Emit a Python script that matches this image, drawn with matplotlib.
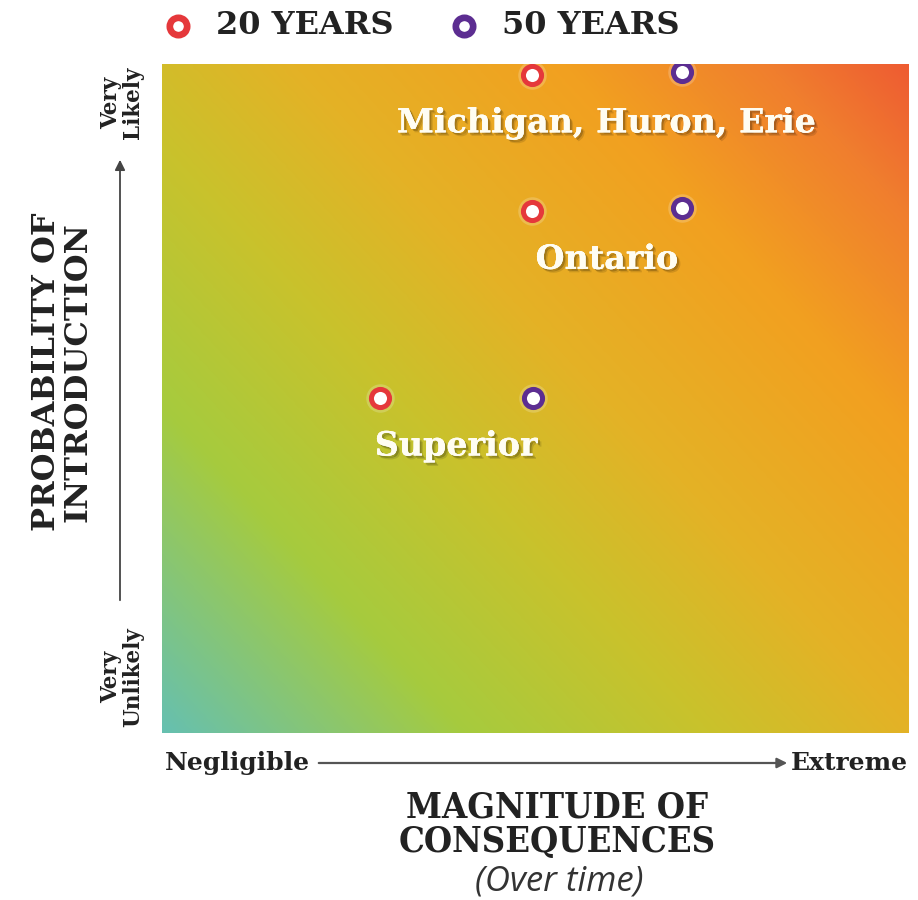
import numpy as np
import matplotlib
matplotlib.use('Agg')
import matplotlib.pyplot as plt
import matplotlib.patheffects as pe
from matplotlib.colors import LinearSegmentedColormap
from matplotlib.lines import Line2D

# lakes and their risk scores (0-10 scale) at 20 and 50 years
lakes = ['Michigan, Huron, Erie', 'Ontario', 'Superior']
consequence_20 = [4.96, 4.96, 2.92]
probability_20 = [9.84, 7.80, 5.01]
consequence_50 = [6.97, 6.97, 4.97]
probability_50 = [9.88, 7.85, 5.01]
series_names = ['20 YEARS', '50 YEARS']

RED = '#e5383b'
PURPLE = '#5c2d91'
SLAB = 'DejaVu Serif'
DARK = '#222222'

fig = plt.figure(figsize=(9.18, 9.0), dpi=100)
W, H = 918, 900
ax = fig.add_axes([162 / W, 1 - 733 / H, 746 / W, 669 / H])

# background gradient: teal bottom-left -> orange/red top-right
cmap = LinearSegmentedColormap.from_list('risk', [
    (0.00, '#66c0b0'),
    (0.22, '#a6cb3e'),
    (0.40, '#c9c22c'),
    (0.55, '#e4b226'),
    (0.75, '#f2a020'),
    (0.90, '#f07e2e'),
    (1.00, '#ee5c32'),
])
gx, gy = np.meshgrid(np.linspace(0, 1, 400), np.linspace(0, 1, 400))
grad = (0.6 * gx + 0.5 * gy) / 1.1
ax.imshow(grad, cmap=cmap, origin='lower', extent=[0, 10, 0, 10],
          aspect='auto', interpolation='bicubic')
ax.set_xlim(0, 10)
ax.set_ylim(0, 10)
ax.set_xticks([])
ax.set_yticks([])
for s in ax.spines.values():
    s.set_visible(False)

# points with a soft white glow
for xs, ys, col in [(consequence_20, probability_20, RED),
                    (consequence_50, probability_50, PURPLE)]:
    ax.scatter(xs, ys, s=420, color='white', alpha=0.2, lw=0, zorder=3)
    ax.scatter(xs, ys, s=170, facecolor='white', edgecolor=col,
               linewidths=3.6, zorder=4)

# lake labels, centred between each pair of points
shadow = [pe.withSimplePatchShadow(offset=(2.5, -2.5), shadow_rgbFace='black', alpha=0.12),
          pe.withSimplePatchShadow(offset=(1.5, -1.5), shadow_rgbFace='black', alpha=0.2),
          pe.Normal()]
for i, name in enumerate(lakes):
    lx = (consequence_20[i] + consequence_50[i]) / 2
    ly = min(probability_20[i], probability_50[i]) - 0.72
    ax.text(lx, ly, name, color='#fffdf2', fontsize=24, fontweight='bold',
            family=SLAB, ha='center', va='center', zorder=5, path_effects=shadow)

# legend on top
leg_x = [178, 464]
for name, col, x0 in zip(series_names, [RED, PURPLE], leg_x):
    fig.add_artist(Line2D([x0 / W], [1 - 26 / H], marker='o', markersize=12.5,
                          markerfacecolor='white', markeredgecolor=col,
                          markeredgewidth=4.8, transform=fig.transFigure))
    fig.text((x0 + 38) / W, 1 - 26 / H, name, fontsize=23, fontweight='bold',
             family=SLAB, color=DARK, ha='left', va='center')

# y axis: label, ends and arrow
fig.text(62 / W, 1 - 372 / H, 'PROBABILITY OF\nINTRODUCTION', rotation=90,
         fontsize=23, fontweight='bold', family=SLAB, color=DARK,
         ha='center', va='center', multialignment='center', linespacing=1.0)
fig.text(122 / W, 1 - 103 / H, 'Very\nLikely', rotation=90, fontsize=15.5,
         fontweight='bold', family=SLAB, color=DARK, ha='center',
         va='center', multialignment='center', linespacing=1.0)
fig.text(122 / W, 1 - 677 / H, 'Very\nUnlikely', rotation=90, fontsize=15.5,
         fontweight='bold', family=SLAB, color=DARK, ha='center',
         va='center', multialignment='center', linespacing=1.0)
fig.add_artist(matplotlib.patches.FancyArrowPatch(
    (120 / W, 1 - 603 / H), (120 / W, 1 - 157 / H), transform=fig.transFigure,
    arrowstyle='-|>,head_length=6,head_width=3', color='#444444', lw=1.3))

# x axis: ends, arrow and title
fig.text(165 / W, 1 - 763 / H, 'Negligible', fontsize=18, fontweight='bold',
         family=SLAB, color=DARK, ha='left', va='center')
fig.text(908 / W, 1 - 763 / H, 'Extreme', fontsize=18, fontweight='bold',
         family=SLAB, color=DARK, ha='right', va='center')
fig.add_artist(matplotlib.patches.FancyArrowPatch(
    (316 / W, 1 - 763 / H), (790 / W, 1 - 763 / H), transform=fig.transFigure,
    arrowstyle='-|>,head_length=6,head_width=3', color='#555555', lw=1.6))
fig.text(557 / W, 1 - 825 / H, 'MAGNITUDE OF\nCONSEQUENCES', fontsize=26,
         fontweight='bold', family=SLAB, color=DARK, ha='center',
         va='center', multialignment='center', linespacing=1.0,
         fontstretch='condensed')
fig.text(559 / W, 1 - 882 / H, '(Over time)', fontsize=25, style='italic',
         family='Open Sans', color='#333333', ha='center', va='center')

fig.savefig('out.png', dpi=100, facecolor='white')
